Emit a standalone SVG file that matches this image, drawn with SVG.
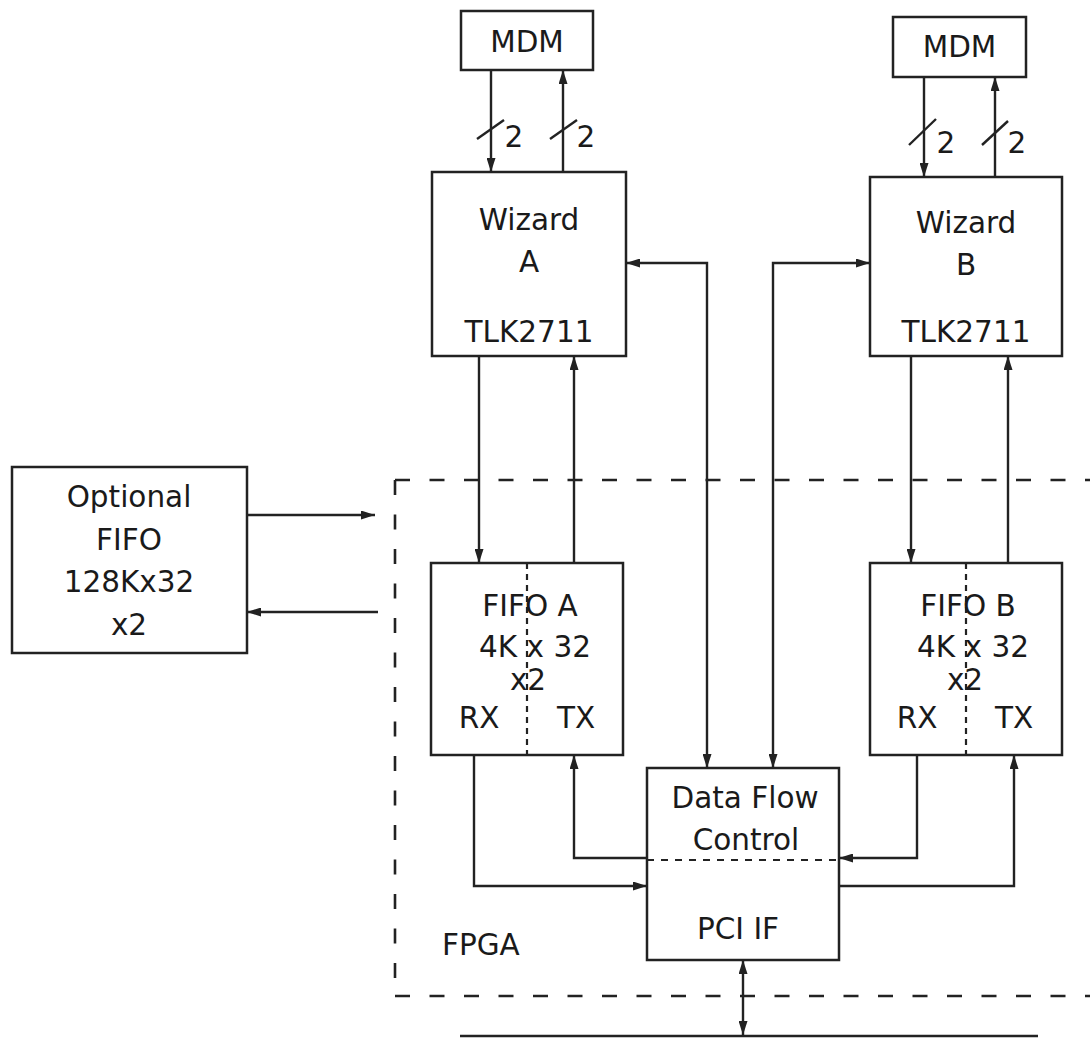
<svg xmlns="http://www.w3.org/2000/svg" width="1090" height="1038" viewBox="0 0 1090 1038">
<defs>
<marker id="ah" markerUnits="userSpaceOnUse" markerWidth="14" markerHeight="9" refX="14" refY="4.5" orient="auto-start-reverse">
<path d="M0,0 L14,4.5 L0,9 z" fill="#222"/>
</marker>
</defs>
<style>
.box{fill:#fff;stroke:#222;stroke-width:2.5}
.ln{fill:none;stroke:#222;stroke-width:2.4}
.dash{fill:none;stroke:#222;stroke-width:2.6;stroke-dasharray:15 19.5}
.fine{fill:none;stroke:#222;stroke-width:2.2;stroke-dasharray:7 7}
text{font-family:"DejaVu Sans","Liberation Sans",sans-serif;font-size:29.5px;fill:#1a1a1a;text-anchor:middle}
</style>
<rect width="1090" height="1038" fill="#fff"/>

<g id="fpga">
<path class="dash" d="M395,480 H1090"/>
<path class="dash" d="M395,480 V996"/>
<path class="dash" d="M395,996 H1090"/>
<text x="442" y="955" style="text-anchor:start">FPGA</text>
</g>

<g id="mdm-a">
<rect class="box" x="461" y="11" width="132" height="59"/>
<text x="527" y="52">MDM</text>
</g>
<g id="mdm-b">
<rect class="box" x="893" y="17" width="133" height="60"/>
<text x="959.5" y="57">MDM</text>
</g>

<g id="wizard-a">
<rect class="box" x="432" y="172" width="194" height="184"/>
<text x="529" y="230">Wizard</text>
<text x="529" y="272">A</text>
<text x="529" y="342">TLK2711</text>
</g>
<g id="wizard-b">
<rect class="box" x="870" y="177" width="192" height="179"/>
<text x="966" y="233">Wizard</text>
<text x="966" y="275">B</text>
<text x="966" y="342">TLK2711</text>
</g>

<g id="optional-fifo">
<rect class="box" x="12" y="467" width="235" height="186"/>
<text x="129" y="507">Optional</text>
<text x="129" y="550">FIFO</text>
<text x="129" y="592">128Kx32</text>
<text x="129" y="635">x2</text>
</g>

<g id="fifo-a">
<rect class="box" x="431" y="563" width="192" height="192"/>
<path class="fine" d="M527,563 V755" style="stroke-dasharray:6 5"/>
<text x="530" y="616">FIFO A</text>
<text x="535" y="657">4K x 32</text>
<text x="528" y="690">x2</text>
<text x="479" y="728">RX</text>
<text x="576" y="728">TX</text>
</g>

<g id="fifo-b">
<rect class="box" x="870" y="563" width="192" height="192"/>
<path class="fine" d="M966,563 V755" style="stroke-dasharray:6 5"/>
<text x="968" y="616">FIFO B</text>
<text x="973" y="657">4K x 32</text>
<text x="965" y="690">x2</text>
<text x="917" y="728">RX</text>
<text x="1014" y="728">TX</text>
</g>

<g id="dfc">
<rect class="box" x="647" y="768" width="192" height="192"/>
<path class="fine" d="M647,860 H839"/>
<text x="745" y="808">Data Flow</text>
<text x="746" y="850">Control</text>
<text x="738" y="939">PCI IF</text>
</g>

<g id="connectors">
<path class="ln" d="M491,70 V172" marker-end="url(#ah)"/>
<path class="ln" d="M563,172 V70" marker-end="url(#ah)"/>
<path class="ln" d="M477,139 L504,120"/>
<path class="ln" d="M550,139 L577,120"/>
<text x="514" y="147">2</text>
<text x="586" y="147">2</text>
<path class="ln" d="M924,77 V177" marker-end="url(#ah)"/>
<path class="ln" d="M995,177 V77" marker-end="url(#ah)"/>
<path class="ln" d="M909,145 L936,119"/>
<path class="ln" d="M982,145 L1008,121"/>
<text x="946" y="153">2</text>
<text x="1017" y="153">2</text>
<path class="ln" d="M479,356 V563" marker-end="url(#ah)"/>
<path class="ln" d="M574,563 V356" marker-end="url(#ah)"/>
<path class="ln" d="M911,356 V563" marker-end="url(#ah)"/>
<path class="ln" d="M1008,563 V356" marker-end="url(#ah)"/>
<path class="ln" d="M626,263 H707 V768" marker-start="url(#ah)" marker-end="url(#ah)"/>
<path class="ln" d="M870,263 H773 V768" marker-start="url(#ah)" marker-end="url(#ah)"/>
<path class="ln" d="M474,755 V886 H647" marker-end="url(#ah)"/>
<path class="ln" d="M647,858 H574 V755" marker-end="url(#ah)"/>
<path class="ln" d="M917,755 V858 H839" marker-end="url(#ah)"/>
<path class="ln" d="M839,886 H1014 V755" marker-end="url(#ah)"/>
<path class="ln" d="M247,515 H375" marker-end="url(#ah)"/>
<path class="ln" d="M378,612 H247" marker-end="url(#ah)"/>
<path class="ln" d="M743,960 V1035" marker-start="url(#ah)" marker-end="url(#ah)"/>
<path class="ln" d="M460,1036 H1038"/>
</g>
</svg>
